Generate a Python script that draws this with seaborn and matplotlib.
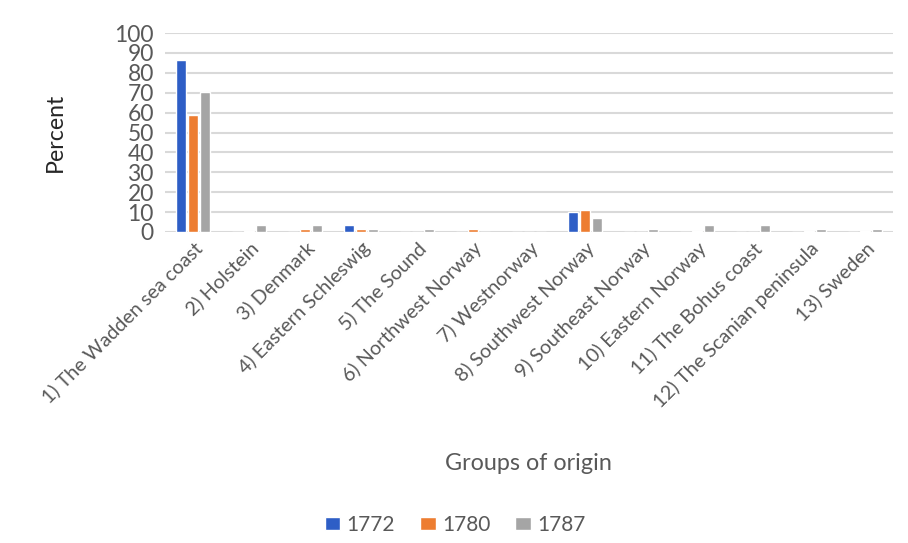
import matplotlib
matplotlib.use("Agg")
import matplotlib.pyplot as plt
import seaborn as sns
import pandas as pd

categories = [
    "1) The Wadden sea coast", "2) Holstein", "3) Denmark", "4) Eastern Schleswig",
    "5) The Sound", "6) Northwest Norway", "7) Westnorway", "8) Southwest Norway",
    "9) Southeast Norway", "10) Eastern Norway", "11) The Bohus coast",
    "12) The Scanian peninsula", "13) Sweden",
]
years = ["1772", "1780", "1787"]
v1772 = [86.5, 0, 0, 3.4, 0, 0, 0, 10.2, 0, 0, 0, 0, 0]
v1780 = [58.8, 0.7, 1.5, 1.5, 0, 1.5, 0, 10.9, 0, 0.7, 0, 0.7, 0.7]
v1787 = [70.5, 3.4, 3.4, 1.5, 1.5, 0, 0, 7.0, 1.5, 3.4, 3.4, 1.5, 1.5]
colors = ["#2E5EC6", "#ED7D31", "#A5A5A5"]
yticks = list(range(0, 101, 10))

rows = []
for yr, vals in zip(years, [v1772, v1780, v1787]):
    for c, v in zip(categories, vals):
        rows.append({"Group": c, "Year": yr, "Percent": v})
df = pd.DataFrame(rows)

sns.set_theme(style="white")
plt.rcParams["font.family"] = ["Lato", "DejaVu Sans"]
txt = "#595959"

fig = plt.figure(figsize=(9.08, 5.43), dpi=100)
ax = fig.add_axes([165/908, 1-232/543, (893-165)/908, (232-33)/543])
sns.barplot(data=df, x="Group", y="Percent", hue="Year", palette=colors,
            order=categories, hue_order=years, width=0.65, gap=0.2,
            ax=ax, legend=True, saturation=1)
ax.set_ylim(0, 100)
ax.set_yticks(yticks)
ax.yaxis.grid(True, color="#D9D9D9", linewidth=1.5, zorder=0)
ax.set_axisbelow(True)
for s in ["top", "right", "left", "bottom"]:
    ax.spines[s].set_visible(False)
ax.tick_params(axis="y", labelsize=16.5, colors=txt, length=0, pad=8)
ax.tick_params(axis="x", labelsize=14.2, colors=txt, length=0, pad=5)
plt.setp(ax.get_xticklabels(), rotation=45, ha="right", rotation_mode="anchor")
ax.set_xlabel("")
ax.set_ylabel("")
fig.text(55/908, 1-132/543, "Percent", rotation=90, ha="center", va="center",
         fontsize=16.7, color="#262626")
fig.text(528/908, 1-463/543, "Groups of origin", ha="center", va="center",
         fontsize=16.8, color=txt)
h, l = ax.get_legend_handles_labels()
ax.legend_.remove()
fig.legend(h, l, loc="center", bbox_to_anchor=(455/908, 1-525/543), ncol=3,
           frameon=False, fontsize=15, labelcolor=txt, handlelength=0.75,
           handleheight=0.6, handletextpad=0.3, columnspacing=1.2)
fig.savefig("out.png", dpi=100)
